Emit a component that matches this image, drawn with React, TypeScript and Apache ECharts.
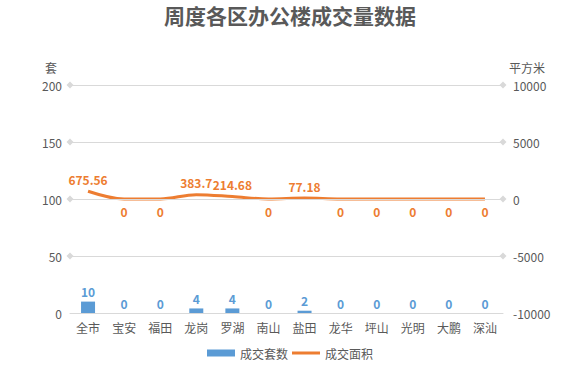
import React, { useEffect, useRef } from "react";
import * as echarts from "echarts";

const categories = ["全市", "宝安", "福田", "龙岗", "罗湖", "南山", "盐田", "龙华", "坪山", "光明", "大鹏", "深汕"];
const unitsSold = [10, 0, 0, 4, 4, 0, 2, 0, 0, 0, 0, 0];
const areaSold = [675.56, 0, 0, 383.7, 214.68, 0, 77.18, 0, 0, 0, 0, 0];
const leftTicks = [50, 100, 150, 200];

const FONT = '"Noto Sans CJK SC", "Microsoft YaHei", sans-serif';

export default function App() {
  const ref = useRef<HTMLDivElement>(null);
  useEffect(() => {
    document.body.style.margin = "0";
    if (!ref.current) return;
    const chart = echarts.init(ref.current, null, { renderer: "svg" });
    chart.setOption({
      animation: false,
      textStyle: { fontFamily: FONT },
      title: {
        text: "周度各区办公楼成交量数据",
        left: "center",
        top: 0,
        padding: [4, 5, 5, 5],
        textStyle: { fontSize: 21, lineHeight: 21, fontWeight: "bold", color: "#595959", fontFamily: FONT },
      },
      legend: {
        bottom: 8,
        left: "center",
        itemGap: 4,
        itemWidth: 28,
        itemHeight: 7,
        textStyle: { color: "#595959", fontSize: 12, fontFamily: FONT },
        data: [
          { name: "成交套数", icon: "rect" },
          { name: "成交面积", icon: "path://M0,0 L28,0 L28,3 L0,3 Z" },
        ],
      },
      grid: { left: 70, right: 77, top: 85, bottom: 59 },
      xAxis: {
        type: "category",
        data: categories,
        boundaryGap: true,
        axisLine: { lineStyle: { color: "#d9d9d9", width: 1 } },
        axisTick: { show: false },
        axisLabel: { color: "#595959", fontSize: 12, margin: 8, fontFamily: FONT },
      },
      yAxis: [
        {
          type: "value",
          min: 0,
          max: 200,
          interval: 50,
          name: "套",
          nameLocation: "end",
          nameGap: 12,
          nameTextStyle: { color: "#595959", fontSize: 12, padding: [0, 38, 0, 0], fontFamily: FONT },
          axisLine: { show: false },
          axisTick: { show: false },
          splitLine: { show: false },
          axisLabel: { color: "#595959", fontSize: 12, margin: 8, fontFamily: FONT },
        },
        {
          type: "value",
          min: -10000,
          max: 10000,
          interval: 5000,
          name: "平方米",
          nameLocation: "end",
          nameGap: 12,
          nameTextStyle: { color: "#595959", fontSize: 12, padding: [0, 0, 0, 48], fontFamily: FONT },
          axisLine: { show: false },
          axisTick: { show: false },
          splitLine: { show: false },
          axisLabel: {
            color: "#595959",
            fontSize: 12,
            margin: 10,
            fontFamily: FONT,
            formatter: (v: number) => String(v),
          },
        },
      ],
      series: [
        {
          name: "成交套数",
          type: "bar",
          yAxisIndex: 0,
          data: unitsSold,
          barWidth: 14,
          itemStyle: { color: "#5b9bd5" },
          label: {
            show: true,
            position: "top",
            color: "#5b9bd5",
            fontWeight: "bold",
            fontSize: 12,
            distance: 4,
            fontFamily: FONT,
          },
          markLine: {
            silent: true,
            symbol: ["diamond", "diamond"],
            symbolSize: 7,
            label: { show: false },
            lineStyle: { color: "#d9d9d9", type: "solid", width: 1 },
            itemStyle: { color: "#d0d0d0" },
            data: leftTicks.map((v) => ({ yAxis: v })),
          },
        },
        {
          name: "成交面积",
          type: "line",
          yAxisIndex: 1,
          smooth: 0.35,
          showSymbol: true,
          symbol: "circle",
          symbolSize: 0.1,
          lineStyle: { color: "#ed7d31", width: 3 },
          itemStyle: { color: "#ed7d31" },
          data: areaSold.map((v) => ({
            value: v,
            label: { position: v === 0 ? "bottom" : "top" },
          })),
          label: {
            show: true,
            color: "#ed7d31",
            fontWeight: "bold",
            fontSize: 12,
            distance: 6,
            fontFamily: FONT,
          },
        },
      ],
    });
    return () => chart.dispose();
  }, []);
  return <div ref={ref} style={{ width: 580, height: 372 }} />;
}
